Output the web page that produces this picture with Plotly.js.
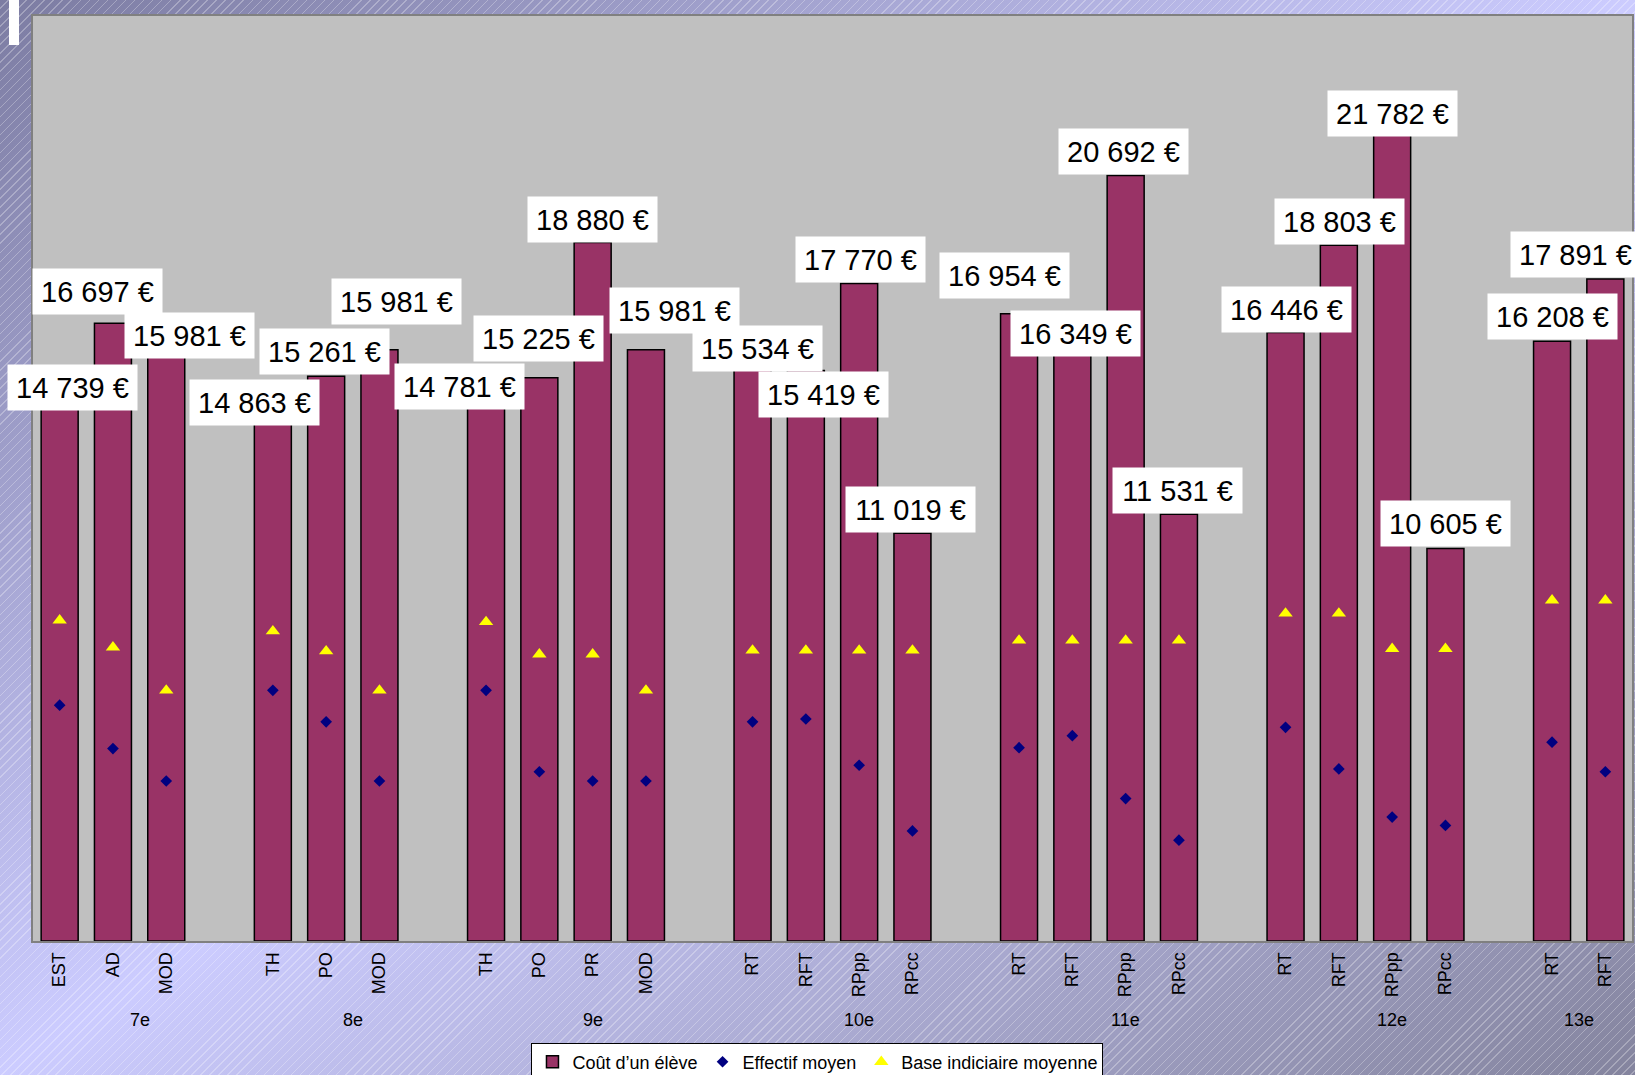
<!DOCTYPE html>
<html>
<head>
<meta charset="utf-8">
<script src="https://cdn.plot.ly/plotly-3.0.1.min.js"></script>
<style>
  html, body { margin: 0; padding: 0; }
  body {
    width: 1635px; height: 1075px; overflow: hidden; position: relative;
    background-color: #ADADDA;
    background-image:
      repeating-linear-gradient(135deg, rgba(255,255,255,0) 0px, rgba(255,255,255,0) 5.4px, rgba(255,255,255,0.28) 5.4px, rgba(255,255,255,0.28) 6.4px),
      linear-gradient(to bottom right, #7C7CA2 0%, #CCCCFF 50%, #84849E 100%);
  }
  #chart { position: absolute; left: 0; top: 0; width: 1635px; height: 1075px; }
  #mark { position: absolute; left: 9px; top: 0; width: 10px; height: 45px; background: #ffffff; z-index: 5; }
</style>
</head>
<body>
<div id="chart"></div>
<div id="mark"></div>
<script>
// ---- data ----
const categories = ['EST','AD','MOD','TH','PO','MOD','TH','PO','PR','MOD','RT','RFT','RPpp','RPcc','RT','RFT','RPpp','RPcc','RT','RFT','RPpp','RPcc','RT','RFT'];
const categoryGroup = ['7e','7e','7e','8e','8e','8e','9e','9e','9e','9e','10e','10e','10e','10e','11e','11e','11e','11e','12e','12e','12e','12e','13e','13e'];
const coutEleve = [14739,16697,15981,14863,15261,15981,14781,15225,18880,15981,15534,15419,17770,11019,16954,16349,20692,11531,16446,18803,21782,10605,16208,17891];
const effectifMoyen = [25.5,20.8,17.3,27.1,23.7,17.3,27.1,18.3,17.3,17.3,23.7,24.0,19.0,11.9,20.9,22.2,15.4,10.9,23.1,18.6,13.4,12.5,21.5,18.3];
const baseIndiciaire = [416,381,325,402,376,325,414,372,372,325,377,377,377,377,390,390,390,390,425,425,379,379,442,442];

// ---- label placement offsets (px, style only) ----
const labelDx = [13,-15,23,-18,-2,17,-27,-1,0,29,5,18,1,-2,-15,3,-2,-1,1,1,0,0,0,-30];
const labelDy = [8,32,14,-11,25,48,8,39,23,39,18,-24,24,24,38,3,24,24,23,24,22,25,25,25];

// ---- slot positions (one empty slot between groups) ----
const xPos = [];
const groupSpans = [];
let slot = 0;
categories.forEach((c, i) => {
  if (i > 0 && categoryGroup[i] !== categoryGroup[i-1]) slot += 1;
  xPos.push(slot);
  const g = categoryGroup[i];
  const last = groupSpans[groupSpans.length-1];
  if (!last || last.name !== g) groupSpans.push({name: g, start: slot, end: slot});
  else last.end = slot;
  slot += 1;
});
const nSlots = slot;

const fmt = v => Math.round(v).toString().replace(/\B(?=(\d{3})+(?!\d))/g, ' ') + ' €';
const FONT = 'Liberation Sans, Arial, sans-serif';

const traces = [
  {
    type: 'bar', name: 'Coût d\u2019un élève', x: xPos, y: coutEleve,
    marker: {color: '#993366', line: {color: '#000000', width: 1.5}},
    hoverinfo: 'skip'
  },
  {
    type: 'scatter', mode: 'markers', name: 'Effectif moyen', x: xPos, y: effectifMoyen, yaxis: 'y2',
    marker: {symbol: 'diamond', color: '#000080', size: 9}, cliponaxis: false, hoverinfo: 'skip'
  },
  {
    type: 'scatter', mode: 'markers', name: 'Base indiciaire moyenne', x: xPos, y: baseIndiciaire, yaxis: 'y3',
    marker: {symbol: 'triangle-up', color: '#FFFF00', size: 12.5}, cliponaxis: false, hoverinfo: 'skip'
  }
];

const annotations = [];
coutEleve.forEach((v, i) => {
  annotations.push({
    x: xPos[i], y: v, xref: 'x', yref: 'y', text: fmt(v), showarrow: false,
    xanchor: 'center', yanchor: 'middle', xshift: labelDx[i], yshift: labelDy[i],
    bgcolor: '#FFFFFF', borderpad: 4, width: 121, height: 37,
    font: {family: FONT, size: 29, color: '#000000'}
  });
});
groupSpans.forEach((g, k) => {
  const hasGap = k < groupSpans.length - 1;
  const left = g.start - 0.5, right = g.end + 0.5 + (hasGap ? 1 : 0);
  annotations.push({
    x: (left + right) / 2, y: 0, xref: 'x', yref: 'paper', yshift: -79,
    text: g.name, showarrow: false, xanchor: 'center', yanchor: 'middle',
    font: {family: FONT, size: 18, color: '#000000'}
  });
});

const layout = {
  width: 1635, height: 1075,
  margin: {l: 33, r: 3, t: 16, b: 134, pad: 0, autoexpand: false},
  paper_bgcolor: 'rgba(0,0,0,0)',
  plot_bgcolor: '#C0C0C0',
  bargap: 0.306,
  font: {family: FONT, color: '#000000'},
  xaxis: {
    range: [-0.5, nSlots - 0.5], tickmode: 'array', tickvals: xPos, ticktext: categories,
    tickangle: -90, tickfont: {family: FONT, size: 18, color: '#000000'},
    showgrid: false, zeroline: false, showline: true, linecolor: '#808080', linewidth: 2, mirror: true,
    ticks: '', ticklabelstandoff: 2, automargin: false, fixedrange: true
  },
  yaxis: {
    range: [0, 25000], showticklabels: false, showgrid: false, zeroline: false,
    showline: true, linecolor: '#808080', linewidth: 2, mirror: true, ticks: '', automargin: false, fixedrange: true
  },
  yaxis2: {overlaying: 'y', range: [0, 100], visible: false, fixedrange: true},
  yaxis3: {overlaying: 'y', range: [0, 1200], visible: false, fixedrange: true},
  showlegend: true,
  legend: {
    orientation: 'h', x: 0.4906, xanchor: 'center', y: -0.1098, yanchor: 'top',
    bgcolor: '#FFFFFF', bordercolor: '#000000', borderwidth: 1,
    font: {family: FONT, size: 18, color: '#000000'}, itemwidth: 30, traceorder: 'normal'
  },
  annotations: annotations
};

Plotly.newPlot('chart', traces, layout, {displayModeBar: false, staticPlot: true});
</script>
</body>
</html>
